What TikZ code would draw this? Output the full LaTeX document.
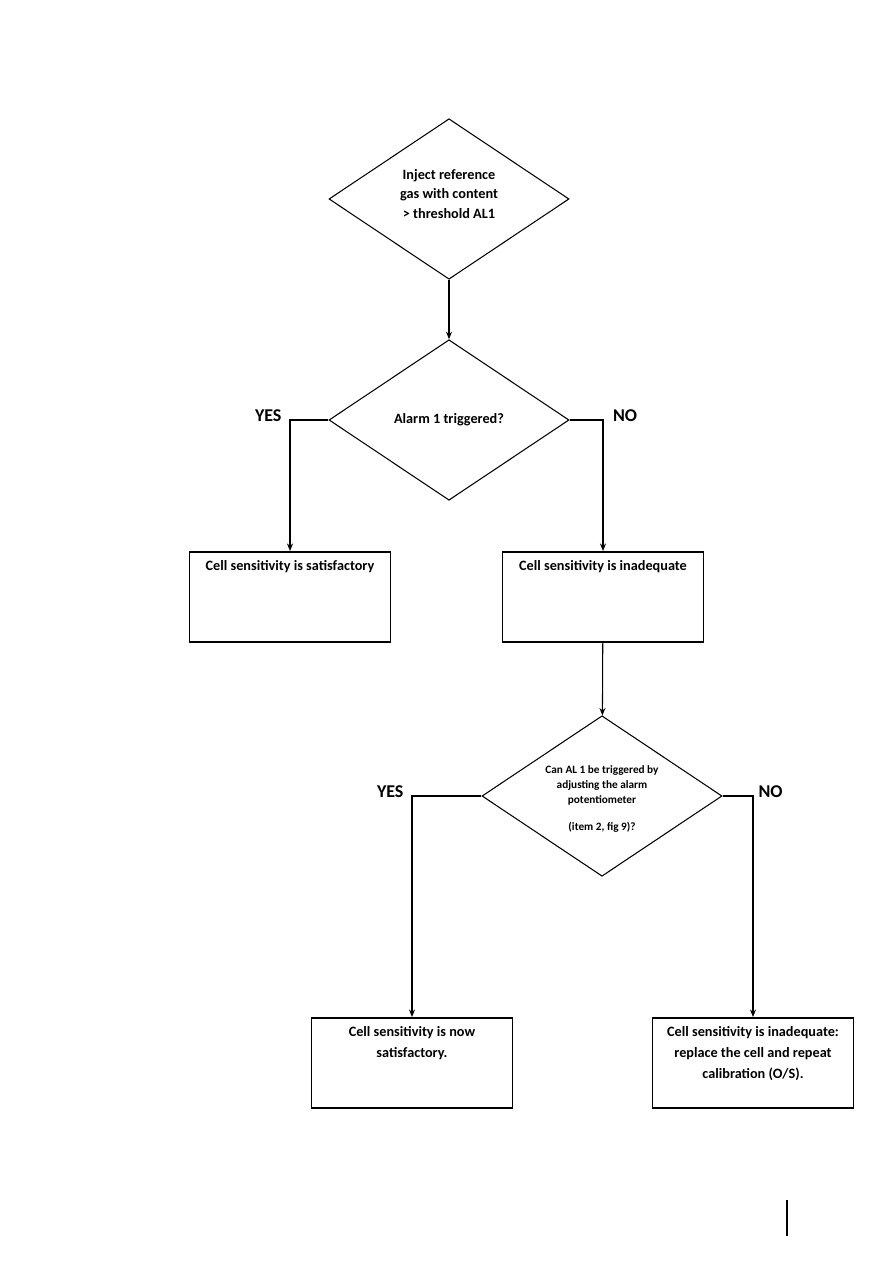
\documentclass[tikz,border=0pt]{standalone}
\usepackage{fontspec}
\setmainfont{Carlito}
\usetikzlibrary{arrows.meta, positioning, shapes.geometric}

% text hung from the top edge of a result box
\newcommand{\toptext}[1]{\parbox[c][48pt][t]{128pt}{\centering #1}}

\begin{document}
\begin{tikzpicture}[>=Stealth, x=0.6666pt, y=-0.6666pt,
    decision/.style={draw, diamond, aspect=1.5, inner sep=0pt, line width=0.7pt,
      minimum width=160pt, minimum height=107pt, align=center,
      font=\bfseries\fontsize{9.5}{13}\selectfont},
    result/.style={draw, rectangle, inner xsep=3pt, inner ysep=6pt, line width=1pt,
      anchor=north, font=\bfseries\fontsize{9.5}{14}\selectfont},
    answer/.style={font=\bfseries\fontsize{12}{14}\selectfont},
    flow/.style={-{Stealth[length=5pt, width=4pt]}, line width=0.7pt}]
  \useasboundingbox (0,0) rectangle (893,1263);

  % Decisions
  \node[decision] (inject) at (449,199) {Inject reference\\gas with content\\> threshold AL1\\[-6pt]\mbox{}};
  \node[decision] (alarm) at (449,420) {Alarm 1 triggered?};
  \node[decision, font=\bfseries\fontsize{7.5}{10}\selectfont] (adjust) at (602,796)
    {\mbox{}\\[-1pt]Can AL 1 be triggered by\\adjusting the alarm\\potentiometer\\[8pt](item 2, fig 9)?};

  % Results
  \node[result] (okay) at (290,551) {\toptext{Cell sensitivity is satisfactory}};
  \node[result] (poor) at (603,551) {\toptext{Cell sensitivity is inadequate}};
  \node[result] (nowok) at (412,1017) {\toptext{Cell sensitivity is now\\satisfactory.}};
  \node[result] (replace) at (753,1017)
    {\toptext{Cell sensitivity is inadequate:\\replace the cell and repeat\\calibration (O/S).}};

  % Connectors
  \draw[flow] (inject) -- (alarm);
  \draw[flow] (alarm.west) -| node[pos=0.5, answer, left=2pt, yshift=3pt] {YES} (okay.north);
  \draw[flow] (alarm.east) -| node[pos=0.5, answer, right=3pt, yshift=3pt] {NO} (poor.north);
  \draw[flow] (poor) -- (adjust);
  \draw[flow] (adjust.west) -| node[pos=0.5, answer, left=2pt, yshift=3pt] {YES} (nowok.north);
  \draw[flow] (adjust.east) -| node[pos=0.5, answer, right=0pt, yshift=3pt] {NO} (replace.north);

  % page edge mark
  \draw[line width=1pt] (787,1200) -- (787,1236);
\end{tikzpicture}
\end{document}
